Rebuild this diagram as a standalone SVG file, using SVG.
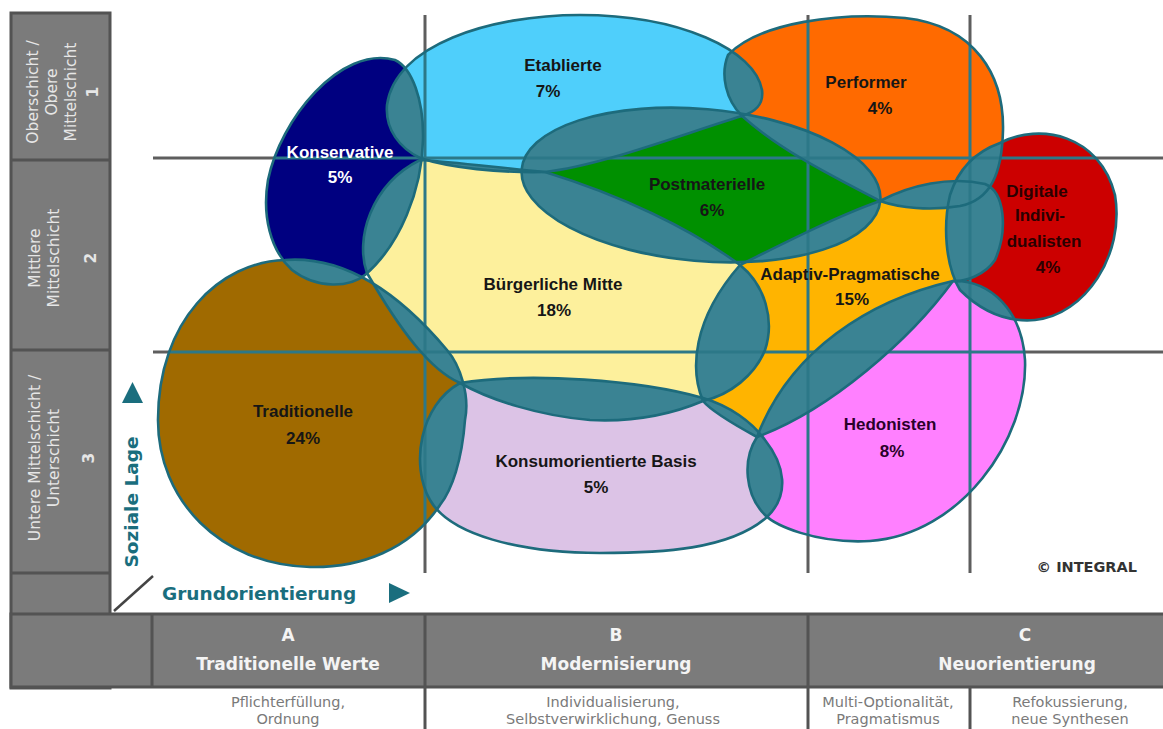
<svg xmlns="http://www.w3.org/2000/svg" xmlns:xlink="http://www.w3.org/1999/xlink" width="1163" height="729" viewBox="0 0 1163 729">
<style>
.side{fill:#7b7b7b;stroke:#535353;stroke-width:3}
.div{stroke:#535353;stroke-width:3;fill:none}
.grid{stroke:#5e5e5e;stroke-width:3;fill:none}
.gridT{stroke:#2c7888;stroke-width:3;fill:none}
.ov{fill:#3a8393}
.ol{fill:none;stroke:#1d6b7c;stroke-width:2.6;stroke-linejoin:round}
.lbl{font-family:"Liberation Sans",Arial,sans-serif;font-weight:bold;font-size:17px;fill:#161616;text-anchor:middle}
.sideT{font-family:"DejaVu Sans",Verdana,sans-serif;font-size:15.5px;fill:#e6e6e6;text-anchor:middle}
.sideN{font-family:"DejaVu Sans",Verdana,sans-serif;font-size:15.5px;font-weight:bold;fill:#e6e6e6;text-anchor:middle}
.head{font-family:"DejaVu Sans",Verdana,sans-serif;font-size:17px;font-weight:bold;fill:#f4f4f4;text-anchor:middle}
.sub{font-family:"DejaVu Sans",Verdana,sans-serif;font-size:14.5px;fill:#7a7a7a;text-anchor:middle}
.axis{font-family:"DejaVu Sans",Verdana,sans-serif;font-size:18.5px;font-weight:bold;fill:#1a6e7e}
</style>
<defs>
<path id="s-etab" d="M 387,105 C 395,45 490,15 580,15 C 680,15 755,50 762,90 C 764,105 755,112 742,116 C 680,135 600,166 545,172 C 500,173 450,168 420,158 C 400,148 385,130 387,105 Z"/>
<path id="s-perf" d="M 728,55 C 760,22 840,12 905,18 C 975,26 1004,75 1003,130 C 1002,175 990,200 960,206 C 930,211 900,208 880,201 C 830,175 780,150 742,116 C 726,100 720,75 728,55 Z"/>
<path id="s-kons" d="M 395,60 C 412,68 424,100 423,140 C 422,190 400,245 365,275 C 350,287 318,290 292,270 C 270,250 262,215 268,180 C 280,120 340,45 395,60 Z"/>
<ellipse id="s-post" cx="701" cy="185" rx="180" ry="76" transform="rotate(5 701 185)"/>
<path id="s-digi" d="M 1000,143 C 1040,122 1100,135 1115,195 C 1125,255 1085,315 1035,320 C 1000,323 975,305 960,290 C 945,265 943,225 950,195 C 958,170 975,152 1000,143 Z"/>
<path id="s-burg" d="M 420,160 C 455,162 500,168 545,172 C 620,195 690,228 740,265 C 765,285 775,320 765,350 C 755,375 730,395 703,401 C 670,415 630,422 590,420 C 540,416 490,400 460,383 C 430,370 400,330 367,273 C 355,240 370,185 420,160 Z"/>
<path id="s-adap" d="M 740,265 C 790,240 840,215 880,201 C 910,185 950,176 985,184 C 1005,192 1008,230 995,260 C 985,275 965,282 953,281 C 910,340 830,410 757,437 C 735,425 712,412 703,401 C 690,370 692,320 740,265 Z"/>
<path id="s-trad" d="M 285,260 C 350,255 405,300 447,350 C 460,365 470,395 465,420 C 462,460 452,490 440,505 C 410,550 360,568 310,567 C 220,565 158,500 158,420 C 158,320 220,262 285,260 Z"/>
<path id="s-kbas" d="M 460,383 C 530,372 640,380 703,398 C 730,406 752,422 765,440 C 785,465 790,495 767,517 C 730,550 660,553 600,553 C 520,553 450,535 430,500 C 410,465 420,405 460,383 Z"/>
<path id="s-hedo" d="M 757,437 C 790,350 870,300 953,281 C 990,280 1022,310 1025,360 C 1028,440 960,535 870,541 C 815,544 775,525 765,515 C 745,495 742,460 757,437 Z"/>
<clipPath id="c-etab"><use href="#s-etab"/></clipPath>
<clipPath id="c-perf"><use href="#s-perf"/></clipPath>
<clipPath id="c-kons"><use href="#s-kons"/></clipPath>
<clipPath id="c-post"><use href="#s-post"/></clipPath>
<clipPath id="c-digi"><use href="#s-digi"/></clipPath>
<clipPath id="c-burg"><use href="#s-burg"/></clipPath>
<clipPath id="c-adap"><use href="#s-adap"/></clipPath>
<clipPath id="c-trad"><use href="#s-trad"/></clipPath>
<clipPath id="c-kbas"><use href="#s-kbas"/></clipPath>
<clipPath id="c-hedo"><use href="#s-hedo"/></clipPath>
<clipPath id="c-all">
<use href="#s-etab"/><use href="#s-perf"/><use href="#s-kons"/><use href="#s-post"/><use href="#s-digi"/>
<use href="#s-burg"/><use href="#s-adap"/><use href="#s-trad"/><use href="#s-kbas"/><use href="#s-hedo"/>
</clipPath>
</defs>

<rect x="0" y="0" width="1163" height="729" fill="#ffffff"/>

<g id="frame">
<rect class="side" x="11" y="13" width="99" height="675"/>
<rect class="side" x="11" y="614" width="1154" height="73"/>
<line class="div" x1="11" y1="160" x2="110" y2="160"/>
<line class="div" x1="11" y1="350" x2="110" y2="350"/>
<line class="div" x1="11" y1="573" x2="110" y2="573"/>
<line class="div" x1="152" y1="614" x2="152" y2="687"/>
<line class="div" x1="425" y1="614" x2="425" y2="687"/>
<line class="div" x1="808" y1="614" x2="808" y2="687"/>
<line class="div" x1="425" y1="688" x2="425" y2="729" stroke-width="2.5"/>
<line class="div" x1="808" y1="688" x2="808" y2="729" stroke-width="2.5"/>
<line class="div" x1="970" y1="688" x2="970" y2="729" stroke-width="2"/>
<line x1="114" y1="611" x2="153" y2="576" stroke="#444" stroke-width="2.5"/>
</g>

<g id="side-labels">
<g transform="translate(0,92)">
<text class="sideT" transform="translate(38,0) rotate(-90)">Oberschicht /</text>
<text class="sideT" transform="translate(57,0) rotate(-90)">Obere</text>
<text class="sideT" transform="translate(76,0) rotate(-90)">Mittelschicht</text>
<text class="sideN" transform="translate(98,0) rotate(-90)">1</text>
</g>
<g transform="translate(0,258)">
<text class="sideT" transform="translate(40,0) rotate(-90)">Mittlere</text>
<text class="sideT" transform="translate(59,0) rotate(-90)">Mittelschicht</text>
<text class="sideN" transform="translate(96,0) rotate(-90)">2</text>
</g>
<g transform="translate(0,458)">
<text class="sideT" transform="translate(40,0) rotate(-90)">Untere Mittelschicht /</text>
<text class="sideT" transform="translate(59,0) rotate(-90)">Unterschicht</text>
<text class="sideN" transform="translate(94,0) rotate(-90)">3</text>
</g>
</g>

<g id="bottom-labels">
<text class="head" x="288" y="641">A</text>
<text class="head" x="288" y="670">Traditionelle Werte</text>
<text class="head" x="616" y="641">B</text>
<text class="head" x="616" y="670">Modernisierung</text>
<text class="head" x="1025" y="641">C</text>
<text class="head" x="1017" y="670">Neuorientierung</text>
<text class="sub" x="288" y="707">Pflichterfüllung,</text>
<text class="sub" x="288" y="724">Ordnung</text>
<text class="sub" x="613" y="707">Individualisierung,</text>
<text class="sub" x="613" y="724">Selbstverwirklichung, Genuss</text>
<text class="sub" x="888" y="707">Multi-Optionalität,</text>
<text class="sub" x="888" y="724">Pragmatismus</text>
<text class="sub" x="1070" y="707">Refokussierung,</text>
<text class="sub" x="1070" y="724">neue Synthesen</text>
</g>

<g id="axes">
<text class="axis" x="162" y="600">Grundorientierung</text>
<polygon points="389,583 410,593 389,603" fill="#1a6e7e"/>
<text class="axis" transform="translate(138,502) rotate(-90)" text-anchor="middle">Soziale Lage</text>
<polygon points="122,403 143,403 132.5,382" fill="#1a6e7e"/>
</g>

<g id="grid">
<line class="grid" x1="153" y1="158" x2="1163" y2="158"/>
<line class="grid" x1="153" y1="352" x2="1163" y2="352"/>
<line class="grid" x1="425" y1="15" x2="425" y2="573"/>
<line class="grid" x1="808" y1="15" x2="808" y2="573"/>
<line class="grid" x1="970" y1="15" x2="970" y2="573" stroke-width="2"/>
</g>

<g id="node-etablierte"><use href="#s-etab" fill="#4fcffb"/></g>
<g id="node-performer"><use href="#s-perf" fill="#ff6a00"/></g>
<g id="node-konservative"><use href="#s-kons" fill="#000080"/></g>
<g id="node-postmaterielle"><use href="#s-post" fill="#009000"/></g>
<g id="node-digitale"><use href="#s-digi" fill="#cc0000"/></g>
<g id="node-buergerliche"><use href="#s-burg" fill="#fdf09c"/></g>
<g id="node-adaptiv"><use href="#s-adap" fill="#ffb400"/></g>
<g id="node-traditionelle"><use href="#s-trad" fill="#a06a00"/></g>
<g id="node-konsum"><use href="#s-kbas" fill="#dcc3e6"/></g>
<g id="node-hedonisten"><use href="#s-hedo" fill="#ff80ff"/></g>

<g id="overlaps" class="ov">
<use href="#s-etab" clip-path="url(#c-kons)"/>
<use href="#s-burg" clip-path="url(#c-kons)"/>
<use href="#s-trad" clip-path="url(#c-kons)"/>
<use href="#s-burg" clip-path="url(#c-trad)"/>
<use href="#s-kbas" clip-path="url(#c-trad)"/>
<use href="#s-kbas" clip-path="url(#c-burg)"/>
<use href="#s-burg" clip-path="url(#c-etab)"/>
<use href="#s-post" clip-path="url(#c-etab)"/>
<use href="#s-perf" clip-path="url(#c-etab)"/>
<use href="#s-post" clip-path="url(#c-perf)"/>
<use href="#s-post" clip-path="url(#c-burg)"/>
<use href="#s-post" clip-path="url(#c-adap)"/>
<use href="#s-adap" clip-path="url(#c-perf)"/>
<use href="#s-digi" clip-path="url(#c-perf)"/>
<use href="#s-digi" clip-path="url(#c-adap)"/>
<use href="#s-hedo" clip-path="url(#c-digi)"/>
<use href="#s-adap" clip-path="url(#c-burg)"/>
<use href="#s-hedo" clip-path="url(#c-adap)"/>
<use href="#s-adap" clip-path="url(#c-kbas)"/>
<use href="#s-hedo" clip-path="url(#c-kbas)"/>
</g>

<g id="grid-over" clip-path="url(#c-all)">
<line class="gridT" x1="153" y1="158" x2="1163" y2="158"/>
<line class="gridT" x1="153" y1="352" x2="1163" y2="352"/>
<line class="gridT" x1="425" y1="15" x2="425" y2="573"/>
<line class="gridT" x1="808" y1="15" x2="808" y2="573"/>
<line class="gridT" x1="970" y1="15" x2="970" y2="573" stroke-width="2"/>
</g>

<g id="outlines" class="ol">
<use href="#s-etab"/><use href="#s-perf"/><use href="#s-kons"/><use href="#s-post"/><use href="#s-digi"/>
<use href="#s-burg"/><use href="#s-adap"/><use href="#s-trad"/><use href="#s-kbas"/><use href="#s-hedo"/>
</g>

<g id="labels">
<g id="label-etablierte"><text class="lbl" x="563" y="71">Etablierte</text><text class="lbl" x="548" y="97">7%</text></g>
<g id="label-performer"><text class="lbl" x="866" y="88">Performer</text><text class="lbl" x="880" y="114">4%</text></g>
<g id="label-konservative"><text class="lbl" x="340" y="158" style="fill:#ffffff">Konservative</text><text class="lbl" x="340" y="183" style="fill:#ffffff">5%</text></g>
<g id="label-postmaterielle"><text class="lbl" x="707" y="190">Postmaterielle</text><text class="lbl" x="712" y="216">6%</text></g>
<g id="label-digitale"><text class="lbl" x="1037" y="197" style="fill:#2a0000">Digitale</text><text class="lbl" x="1040" y="221" style="fill:#2a0000">Indivi-</text><text class="lbl" x="1044" y="247" style="fill:#2a0000">dualisten</text><text class="lbl" x="1048" y="273" style="fill:#2a0000">4%</text></g>
<g id="label-buergerliche"><text class="lbl" x="553" y="290">Bürgerliche Mitte</text><text class="lbl" x="554" y="316">18%</text></g>
<g id="label-adaptiv"><text class="lbl" x="850" y="280">Adaptiv-Pragmatische</text><text class="lbl" x="852" y="305">15%</text></g>
<g id="label-traditionelle"><text class="lbl" x="303" y="417">Traditionelle</text><text class="lbl" x="303" y="444">24%</text></g>
<g id="label-konsum"><text class="lbl" x="596" y="467">Konsumorientierte Basis</text><text class="lbl" x="596" y="493">5%</text></g>
<g id="label-hedonisten"><text class="lbl" x="890" y="430" style="fill:#2a002a">Hedonisten</text><text class="lbl" x="892" y="457" style="fill:#2a002a">8%</text></g>
<text x="1137" y="572" text-anchor="end" font-family="DejaVu Sans, Verdana, sans-serif" font-size="14.5" font-weight="bold" fill="#333333">© INTEGRAL</text>
</g>
</svg>
